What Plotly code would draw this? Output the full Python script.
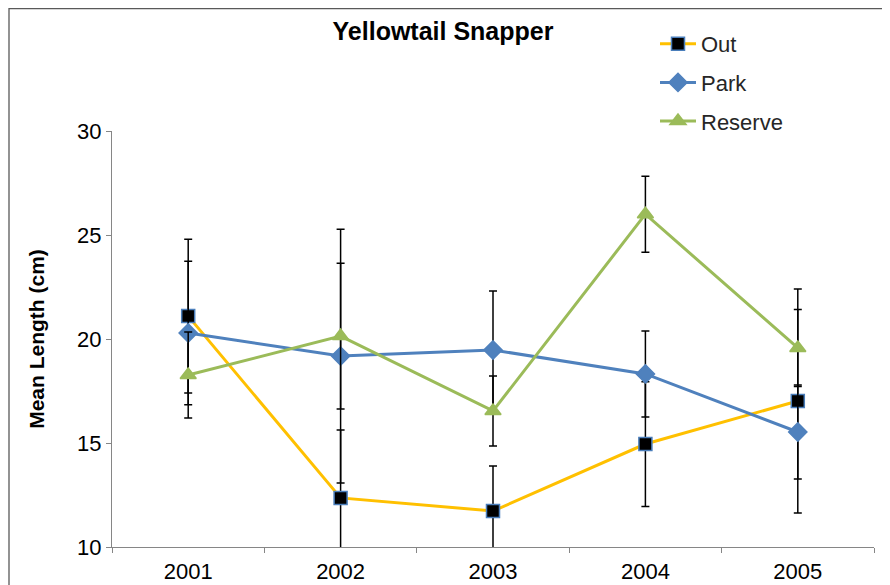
import plotly.graph_objects as go

years = ["2001", "2002", "2003", "2004", "2005"]
series_names = ["Out", "Park", "Reserve"]
out_mean = [21.1, 12.36, 11.73, 14.95, 17.02]
out_err = [3.7, 3.27, 2.16, 3.0, 5.38]
park_mean = [20.29, 19.18, 19.47, 18.32, 15.53]
park_err = [3.45, 6.1, 2.84, 2.07, 2.26]
reserve_mean = [18.27, 20.14, 16.54, 26.0, 19.57]
reserve_err = [2.07, 3.5, 1.68, 1.83, 1.85]
y_ticks = [10, 15, 20, 25, 30]

# page has an 8px body margin; work in page pixels and subtract it
OFF = 8
W, H = 890 - OFF, 585 - OFF
L, R, T, B = 112 - OFF, 874 - OFF, 131 - OFF, 547 - OFF

fig = go.Figure()

styles = [
    dict(line="#FFC000", symbol="square", mcolor="#000000", mline="#4A7EBB", size=13),
    dict(line="#4F81BD", symbol="diamond", mcolor="#4F81BD", mline="#4F81BD", size=14),
    dict(line="#9BBB59", symbol="triangle-up", mcolor="#9BBB59", mline="#9BBB59", size=14),
]
for name, means, errs, st in zip(series_names, [out_mean, park_mean, reserve_mean],
                                 [out_err, park_err, reserve_err], styles):
    fig.add_trace(go.Scatter(
        x=years, y=means, name=name, mode="lines+markers", legendgroup=name,
        line=dict(color=st["line"], width=3),
        marker=dict(symbol=st["symbol"], size=st["size"], color=st["mcolor"],
                    line=dict(color=st["mline"], width=1.5)),
        error_y=dict(type="data", array=errs, visible=True, color="#000000",
                     thickness=1.5, width=4),
    ))

pw = R - L
ph = B - T
def px(x_page):
    return (x_page - OFF - L) / pw
def py(y_page):
    return (B - (y_page - OFF)) / ph

fig.add_shape(type="rect", xref="paper", yref="paper",
              x0=px(9), x1=px(884.5), y0=py(640), y1=py(8.7),
              line=dict(color="#595959", width=1.3), fillcolor="rgba(0,0,0,0)", layer="below")

fig.update_layout(
    width=W, height=H,
    margin=dict(l=L, r=W - R, t=T, b=H - B, pad=0, autoexpand=False),
    paper_bgcolor="white", plot_bgcolor="white",
    font=dict(family="Liberation Sans, Arial, sans-serif", color="#000000"),
    title=dict(text="<b>Yellowtail Snapper</b>", x=(443 - OFF) / W, xanchor="center",
               y=1 - (31 - OFF) / H, yanchor="middle", xref="container", yref="container",
               font=dict(size=25, color="#000000")),
    showlegend=True,
    legend=dict(x=px(655), y=py(23), xanchor="left", yanchor="top",
                font=dict(size=22, color="#262626"), bgcolor="rgba(0,0,0,0)",
                traceorder="grouped", tracegroupgap=7, itemwidth=36),
    xaxis=dict(type="category", showline=True, linecolor="#868686", linewidth=1.3,
               ticks="outside", tickson="boundaries", ticklen=5, tickcolor="#868686",
               tickfont=dict(size=22, color="#000000"), showgrid=False, zeroline=False,
               range=[-0.5, 4.5], ticklabelstandoff=4, automargin=False),
    yaxis=dict(range=[10, 30], tickvals=y_ticks, showline=True, linecolor="#868686",
               linewidth=1.3, ticks="outside", ticklen=5, tickcolor="#868686",
               tickfont=dict(size=22, color="#000000"), showgrid=False, zeroline=False,
               automargin=False,
               title=dict(text="<b>Mean Length (cm)</b>", font=dict(size=21, color="#000000"),
                          standoff=26)),
)

fig.write_html("out.html")
